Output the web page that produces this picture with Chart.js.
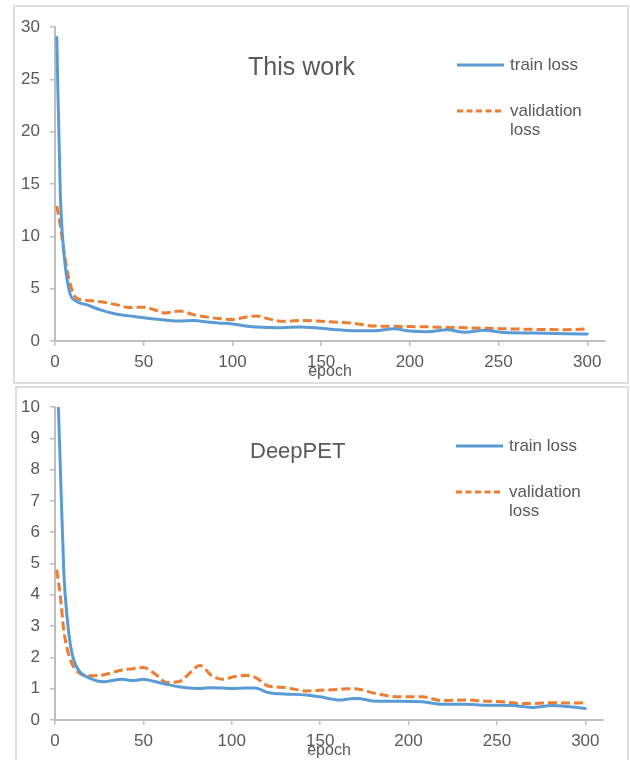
<!DOCTYPE html>
<html>
<head>
<meta charset="utf-8">
<script src="https://cdn.jsdelivr.net/npm/chart.js@4.4.1/dist/chart.umd.min.js"></script>
<style>
  body { margin: 0; background: #fff; width: 630px; height: 760px; overflow: hidden; position: relative; }
  .painel { position: absolute; border: 2px solid #dedede; box-sizing: border-box; }
  #painel1 { left: 13px; top: 5px; width: 616px; height: 379px; }
  #painel2 { left: 15px; top: 386px; width: 614px; height: 380px; }
  canvas { position: absolute; left: 0; }
  #chartThisWork { top: 0; }
  #chartDeepPet { top: 385px; }
</style>
</head>
<body>
<div class="painel" id="painel1"></div>
<div class="painel" id="painel2"></div>
<canvas id="chartThisWork" width="630" height="383"></canvas>
<canvas id="chartDeepPet" width="630" height="375"></canvas>
<script>
// Curvas de loss (valores aproximados)

// Painel 1: "This work"
const epocasThisWork = [1, 3, 5, 8, 12, 18, 26, 35, 42, 50, 56, 62, 70, 78, 86, 92, 100, 105, 110, 114, 120, 128, 138, 148, 157, 168, 180, 191, 200, 210, 221, 231, 242, 251, 270, 288, 300];
const trainThisWork = [29, 14, 8.5, 4.8, 3.8, 3.45, 2.95, 2.55, 2.4, 2.23, 2.1, 2.0, 1.9, 1.95, 1.82, 1.72, 1.63, 1.5, 1.38, 1.34, 1.3, 1.27, 1.34, 1.25, 1.11, 0.98, 0.98, 1.17, 0.96, 0.89, 1.07, 0.84, 1.02, 0.84, 0.76, 0.7, 0.67];
const valThisWork = [12.9, 11.0, 8.6, 5.8, 4.1, 3.88, 3.74, 3.45, 3.2, 3.23, 2.98, 2.68, 2.87, 2.52, 2.28, 2.15, 2.05, 2.2, 2.35, 2.38, 2.14, 1.88, 1.95, 1.9, 1.81, 1.69, 1.43, 1.41, 1.38, 1.35, 1.3, 1.27, 1.22, 1.18, 1.11, 1.08, 1.16];

// Painel 2: "DeepPET"
const epocasDeepPet = [1, 3, 5, 7, 9, 11, 14, 20, 27, 38, 44, 50, 57, 63, 70, 74, 82, 89, 95, 101, 108, 113, 121, 130, 142, 150, 161, 166, 171, 181, 195, 208, 219, 232, 244, 251, 259, 262, 270, 281, 290, 300];
const trainDeepPet = [11.6, 8.1, 4.7, 3.2, 2.3, 1.85, 1.54, 1.33, 1.22, 1.3, 1.26, 1.3, 1.22, 1.14, 1.06, 1.03, 1.01, 1.03, 1.02, 1.01, 1.02, 1.02, 0.87, 0.83, 0.8, 0.74, 0.64, 0.67, 0.69, 0.6, 0.6, 0.58, 0.5, 0.5, 0.47, 0.47, 0.46, 0.45, 0.4, 0.46, 0.43, 0.37];
const valDeepPet = [4.8, 3.95, 2.85, 2.25, 1.88, 1.65, 1.49, 1.41, 1.44, 1.6, 1.64, 1.68, 1.45, 1.2, 1.22, 1.38, 1.74, 1.4, 1.3, 1.38, 1.42, 1.37, 1.08, 1.04, 0.93, 0.95, 0.98, 1.0, 0.99, 0.85, 0.74, 0.74, 0.62, 0.64, 0.6, 0.59, 0.55, 0.53, 0.53, 0.55, 0.54, 0.55];

// Eixos
const xTicks = [0, 50, 100, 150, 200, 250, 300];
const xMax = 310;
const legendaLinhas = [['train loss'], ['validation', 'loss']];

const AZUL = '#5b9bd5';
const LARANJA = '#ed7d31';
const CINZA_TEXTO = '#595959';
const CINZA_EIXO = '#bfbfbf';
const FONTE = '"Liberation Sans", Arial, sans-serif';

// Plugin: título e legenda desenhados dentro da área do gráfico
const overlayPlugin = {
    id: 'overlay',
    afterDraw(chart, args, opts) {
        const ctx = chart.ctx;
        ctx.save();
        ctx.textBaseline = 'middle';
        ctx.fillStyle = CINZA_TEXTO;
        ctx.font = opts.titleFont;
        ctx.fillText(opts.title, opts.titleX, opts.titleY);

        let y = opts.legendY;
        chart.data.datasets.forEach((ds, i) => {
            ctx.beginPath();
            ctx.strokeStyle = ds.borderColor;
            ctx.lineWidth = 3;
            ctx.setLineDash(ds.borderDash ? [6, 3.5] : []);
            ctx.moveTo(opts.legendX, y);
            ctx.lineTo(opts.legendX + 47, y);
            ctx.stroke();
            ctx.setLineDash([]);

            ctx.font = '17px ' + FONTE;
            ctx.fillStyle = CINZA_TEXTO;
            legendaLinhas[i].forEach((txt, j) => {
                ctx.fillText(txt, opts.legendX + 53, y + j * 19);
            });
            y += 46;
        });
        ctx.restore();
    }
};

function criarGrafico(id, epocas, train, val, cfg) {
    const ctx = document.getElementById(id).getContext('2d');
    return new Chart(ctx, {
        type: 'line',
        data: {
            datasets: [{
                label: 'train loss',
                data: epocas.map((e, i) => ({ x: e, y: train[i] })),
                borderColor: AZUL,
                borderWidth: 3,
                borderCapStyle: 'round',
                pointRadius: 0,
                cubicInterpolationMode: 'monotone'
            }, {
                label: 'validation loss',
                data: epocas.map((e, i) => ({ x: e, y: val[i] })),
                borderColor: LARANJA,
                borderWidth: 3,
                borderDash: [9, 4],
                pointRadius: 0,
                cubicInterpolationMode: 'monotone'
            }]
        },
        options: {
            responsive: false,
            animation: false,
            layout: { padding: cfg.padding },
            plugins: {
                legend: { display: false },
                tooltip: { enabled: false },
                overlay: cfg.overlay
            },
            scales: {
                x: {
                    type: 'linear',
                    min: 0,
                    max: xMax,
                    afterBuildTicks: (scale) => { scale.ticks = xTicks.map(v => ({ value: v })); },
                    afterFit: (scale) => { scale.height = cfg.xHeight; },
                    grid: { drawOnChartArea: false, drawTicks: true, tickLength: 5, color: CINZA_EIXO, lineWidth: 1.5 },
                    border: { color: CINZA_EIXO, width: 2 },
                    ticks: { color: CINZA_TEXTO, font: { family: FONTE, size: 17 }, padding: 6, maxRotation: 0 },
                    title: {
                        display: true,
                        text: 'epoch',
                        color: CINZA_TEXTO,
                        font: { family: FONTE, size: 16 },
                        padding: { top: 0, bottom: cfg.titlePad }
                    }
                },
                y: {
                    min: 0,
                    max: cfg.yMax,
                    ticks: { stepSize: cfg.yStep, color: CINZA_TEXTO, font: { family: FONTE, size: 17 }, padding: 10 },
                    afterFit: (scale) => { scale.width = 55; },
                    grid: { drawOnChartArea: false, drawTicks: true, tickLength: 5, color: CINZA_EIXO, lineWidth: 1.5 },
                    border: { color: CINZA_EIXO, width: 2 }
                }
            }
        },
        plugins: [overlayPlugin]
    });
}

criarGrafico('chartThisWork', epocasThisWork, trainThisWork, valThisWork, {
    padding: { left: 0, right: 25, top: 27, bottom: 0 },
    xHeight: 42,
    titlePad: 2,
    yMax: 30,
    yStep: 5,
    overlay: { title: 'This work', titleFont: '25px ' + FONTE, titleX: 248, titleY: 68, legendX: 457, legendY: 65 }
});

criarGrafico('chartDeepPet', epocasDeepPet, trainDeepPet, valDeepPet, {
    padding: { left: 0, right: 27, top: 22, bottom: 0 },
    xHeight: 40,
    titlePad: 0,
    yMax: 10,
    yStep: 1,
    overlay: { title: 'DeepPET', titleFont: '22px ' + FONTE, titleX: 250, titleY: 67, legendX: 456, legendY: 61 }
});
</script>
</body>
</html>
